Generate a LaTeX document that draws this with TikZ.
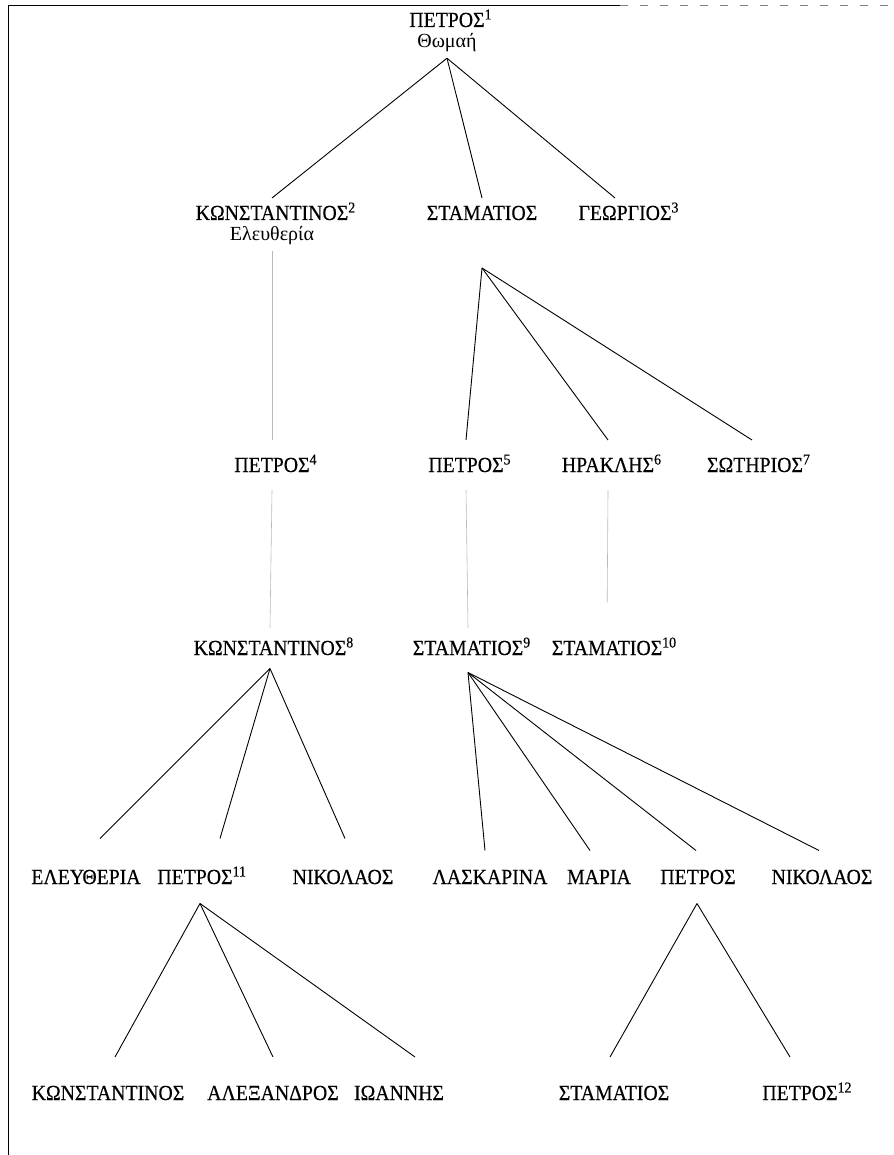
\documentclass[tikz,border=0pt]{standalone}
\usepackage{fontspec}
\setmainfont{Liberation Serif}
\newfontfamily\namefont{Liberation Serif}[FakeStretch=0.92, FakeBold=0.4]

\begin{document}
\begin{tikzpicture}[
    x=1pt, y=-1pt,
    person/.style={%
      font=\namefont\fontsize{21.5}{24}\selectfont,
      inner sep=0pt,
      text height=14pt,
      text depth=0pt,
    },
    spouse/.style={%
      font=\fontsize{20}{22}\selectfont,
      inner sep=0pt,
      outer ysep=6pt,
    },
    gen1/.style={person, outer ysep=8pt},
    gen2/.style={person, outer ysep=18pt},
    gen3/.style={person, outer ysep=13.5pt},
    gen4/.style={person, outer ysep=19.5pt},
    gen5/.style={person, outer ysep=29pt},
    branch/.style={line width=0.9pt},
    faint/.style={draw=gray!55, line width=0.6pt},
  ]

    \useasboundingbox (0,0) rectangle (893,1155);
    \draw [line width=0.8pt] (8,1155) -- (8,5) -- (620,5);
    \draw [gray, dash pattern=on 8pt off 12pt] (620,5) -- (893,5);

    \node [person] (p1) at (447,20) {ΠΕΤΡΟΣ\rlap{\textsuperscript{1}}};
    \node [spouse] (w1) at (447,43) {Θωμαή};

    \node [gen1] (k2) at (272,213) {ΚΩΝΣΤΑΝΤΙΝΟΣ\rlap{\textsuperscript{2}}};
    \node [spouse] (w2) at (272,236) {Ελευθερία};
    \node [gen1] (s0) at (482,213) {ΣΤΑΜΑΤΙΟΣ};
    \node [gen1] (g3) at (625,213) {ΓΕΩΡΓΙΟΣ\rlap{\textsuperscript{3}}};

    \node [gen2] (p4) at (272,465) {ΠΕΤΡΟΣ\rlap{\textsuperscript{4}}};
    \node [gen2] (p5) at (466,465) {ΠΕΤΡΟΣ\rlap{\textsuperscript{5}}};
    \node [gen2] (h6) at (608,465) {ΗΡΑΚΛΗΣ\rlap{\textsuperscript{6}}};
    \node [gen2] (s7) at (755,465) {ΣΩΤΗΡΙΟΣ\rlap{\textsuperscript{7}}};

    \node [gen3] (k8) at (270,648) {ΚΩΝΣΤΑΝΤΙΝΟΣ\rlap{\textsuperscript{8}}};
    \node [gen3] (s9) at (468,648) {ΣΤΑΜΑΤΙΟΣ\rlap{\textsuperscript{9}}};
    \node [gen3] (s10) at (607,648) {ΣΤΑΜΑΤΙΟΣ\rlap{\textsuperscript{10}}};

    \node [gen4] (e1) at (86,877) {ΕΛΕΥΘΕΡΙΑ};
    \node [gen4] (p11) at (195,877) {ΠΕΤΡΟΣ\rlap{\textsuperscript{11}}};
    \node [gen4] (n1) at (343,877) {ΝΙΚΟΛΑΟΣ};
    \node [gen4] (l1) at (490,877) {ΛΑΣΚΑΡΙΝΑ};
    \node [gen4] (m1) at (599,877) {ΜΑΡΙΑ};
    \node [gen4] (p0) at (698,877) {ΠΕΤΡΟΣ};
    \node [gen4] (n2) at (822,877) {ΝΙΚΟΛΑΟΣ};

    \node [gen5] (k0) at (108,1093) {ΚΩΝΣΤΑΝΤΙΝΟΣ};
    \node [gen5] (a0) at (273,1093) {ΑΛΕΞΑΝΔΡΟΣ};
    \node [gen5] (i0) at (399,1093) {ΙΩΑΝΝΗΣ};
    \node [gen5] (s11) at (614,1093) {ΣΤΑΜΑΤΙΟΣ};
    \node [gen5] (p12) at (800,1093) {ΠΕΤΡΟΣ\rlap{\textsuperscript{12}}};

    \draw [branch] (w1.south) -- (k2.north);
    \draw [branch] (w1.south) -- (s0.north);
    \draw [branch] (w1.south) -- ([xshift=-10pt]g3.north);

    \draw [faint] (w2.south) -- (p4.north);
    \draw [branch] ([yshift=-40pt]s0.south) -- (p5.north);
    \draw [branch] ([yshift=-40pt]s0.south) -- (h6.north);
    \draw [branch] ([yshift=-40pt]s0.south) -- ([xshift=-3pt]s7.north);

    \draw [faint] (p4.south) -- (k8.north);
    \draw [faint] (p5.south) -- (s9.north);
    \draw [faint, shorten >=25pt] (h6.south) -- (s10.north);

    \draw [branch] (k8.south) -- ([xshift=14pt, yshift=12pt]e1.north);
    \draw [branch] (k8.south) -- ([xshift=25pt, yshift=12pt]p11.north);
    \draw [branch] (k8.south) -- ([xshift=2pt, yshift=12pt]n1.north);

    \draw [branch] ([yshift=-4pt]s9.south) -- ([xshift=-5pt]l1.north);
    \draw [branch] ([yshift=-4pt]s9.south) -- ([xshift=-9pt]m1.north);
    \draw [branch] ([yshift=-4pt]s9.south) -- ([xshift=-2pt]p0.north);
    \draw [branch] ([yshift=-4pt]s9.south) -- ([xshift=-3pt]n2.north);

    \draw [branch] ([xshift=5pt]p11.south) -- ([xshift=7pt]k0.north);
    \draw [branch] ([xshift=5pt]p11.south) -- (a0.north);
    \draw [branch] ([xshift=5pt]p11.south) -- ([xshift=16pt]i0.north);

    \draw [branch] ([xshift=-1pt]p0.south) -- ([xshift=-4pt]s11.north);
    \draw [branch] ([xshift=-1pt]p0.south) -- ([xshift=-10pt]p12.north);
\end{tikzpicture}
\end{document}
